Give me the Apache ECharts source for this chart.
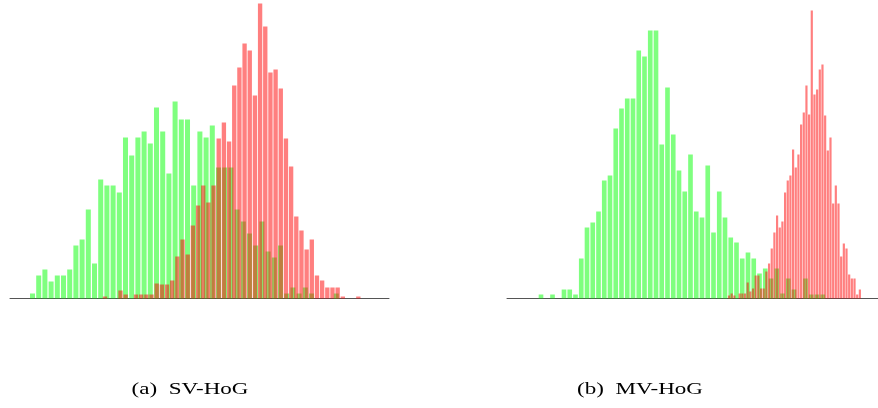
<!DOCTYPE html>
<html>
<head>
<meta charset="utf-8">
<script src="https://cdn.jsdelivr.net/npm/echarts@6/dist/echarts.min.js"></script>
<style>
  html, body { margin: 0; padding: 0; background: #fff; }
  #chart { width: 878px; height: 408px; }
</style>
</head>
<body>
<div id="chart"></div>
<script>
// Score histograms, 50 bins per class; each class covers its own score range.
// Panel (a): SV-HoG
const svGreenRange = [0.0512, 0.8691];
const svGreen = [5, 23, 29, 17, 23, 23, 29, 53, 59, 89,
                 35, 119, 113, 113, 106, 161, 143, 161, 167, 155,
                 191, 167, 125, 197, 179, 179, 113, 167, 161, 173,
                 131, 131, 131, 89, 77, 65, 53, 77, 47, 41,
                 53, 5, 11, 5, 11, 5, 0, 0, 0, 5];
const svRedRange = [0.2438, 0.9259];
const svRed = [2, 0, 0, 8, 4, 0, 4, 4, 4, 4,
               15, 14, 14, 18, 42, 59, 44, 73, 93, 113,
               96, 113, 160, 176, 157, 213, 231, 255, 248, 203,
               295, 272, 226, 229, 210, 160, 132, 82, 68, 49,
               59, 23, 18, 11, 11, 11, 2, 0, 0, 2];

// Panel (b): MV-HoG
const mvGreenRange = [0.0839, 0.8588];
const mvGreen = [4, 0, 4, 0, 9, 9, 4, 40, 71, 76,
                 87, 118, 123, 170, 190, 200, 200, 248, 242, 268,
                 268, 154, 211, 164, 128, 107, 144, 87, 81, 133,
                 66, 107, 81, 61, 56, 40, 46, 40, 25, 30,
                 20, 30, 5, 20, 9, 0, 20, 4, 4, 4];
const mvRedRange = [0.5948, 0.9547];
const mvRed = [3, 5, 3, 0, 5, 5, 5, 16, 7, 10,
               23, 23, 10, 10, 27, 35, 50, 66, 83, 71,
               77, 106, 118, 123, 149, 131, 144, 174, 186, 213,
               184, 288, 204, 209, 229, 234, 183, 148, 161, 95,
               113, 95, 42, 55, 50, 24, 20, 20, 4, 9];

const captions = ['(a)  SV-HoG', '(b)  MV-HoG'];
const yMax = 298.5;

// bin centres from the range and the bin count
function toBins(range, counts) {
  const w = (range[1] - range[0]) / counts.length;
  return counts.map((c, i) => [range[0] + (i + 0.5) * w, c]);
}

const GREEN = 'rgba(0, 255, 0, 0.5)';
const RED = 'rgba(255, 0, 0, 0.5)';

function xAxisFor(gridIndex, showLine) {
  return {
    type: 'value', gridIndex, min: 0, max: 1,
    axisLine: { show: showLine, onZero: false, lineStyle: { color: '#555', width: 1 } },
    axisTick: { show: false }, axisLabel: { show: false }, splitLine: { show: false }
  };
}
function yAxisFor(gridIndex) {
  return { type: 'value', gridIndex, min: 0, max: yMax, show: false, splitLine: { show: false } };
}
function barSeries(xi, yi, data, color, width) {
  return {
    type: 'bar', xAxisIndex: xi, yAxisIndex: yi, data, barWidth: width,
    itemStyle: { color }, silent: true
  };
}
function caption(x, text) {
  return {
    type: 'text', x, y: 390, scaleX: 1.44, silent: true,
    style: { text, font: '16px "Liberation Serif"', fill: '#000',
             textAlign: 'center', textVerticalAlign: 'middle' }
  };
}

const chart = echarts.init(document.getElementById('chart'), null, { renderer: 'canvas' });
chart.setOption({
  animation: false,
  backgroundColor: '#fff',
  grid: [
    { left: 10, width: 379, top: 0, bottom: 408 - yMax, containLabel: false },
    { left: 507, width: 371, top: 0, bottom: 408 - yMax, containLabel: false }
  ],
  xAxis: [xAxisFor(0, true), xAxisFor(0, false), xAxisFor(1, true), xAxisFor(1, false)],
  yAxis: [yAxisFor(0), yAxisFor(1)],
  series: [
    barSeries(0, 0, toBins(svGreenRange, svGreen), GREEN, '81%'),
    barSeries(1, 0, toBins(svRedRange, svRed), RED, '84%'),
    barSeries(2, 1, toBins(mvGreenRange, mvGreen), GREEN, '81%'),
    barSeries(3, 1, toBins(mvRedRange, mvRed), RED, '82%')
  ],
  graphic: [caption(190, captions[0]), caption(640, captions[1])]
});
</script>
</body>
</html>
